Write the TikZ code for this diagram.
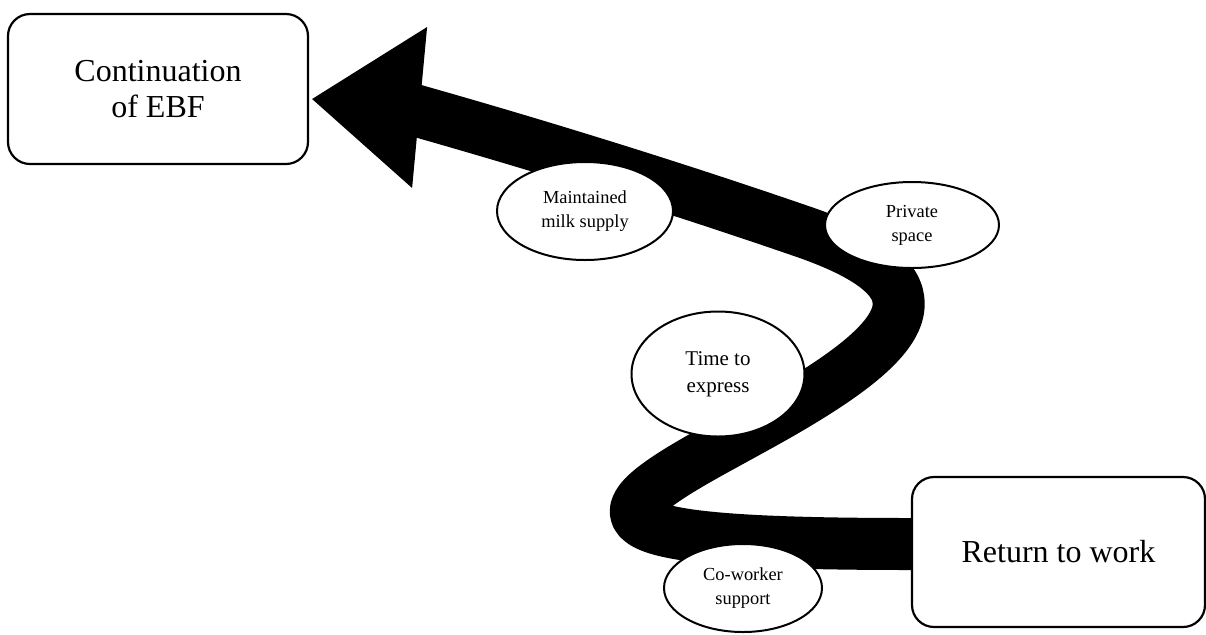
\documentclass[tikz,border=0pt]{standalone}
\usepackage{fontspec}
\setmainfont{Liberation Serif}
\usetikzlibrary{shapes.geometric, calc, backgrounds}

\begin{document}
\begin{tikzpicture}[x=0.5pt, y=-0.5pt,
  stagebox/.style={draw, line width=1.1pt, rounded corners=11pt, fill=white, align=center,
    inner sep=0pt, font=\fontsize{16}{18}\selectfont},
  factor/.style={draw, ellipse, line width=1pt, fill=white, align=center,
    inner sep=0pt, font=\fontsize{9.2}{12}\selectfont},
  pathway/.style={line width=26pt, line join=round}]
  \useasboundingbox (0,0) rectangle (1206,634);

  % Stages
  \node[stagebox, minimum width=150pt, minimum height=75pt] (cont) at (158,89) {Continuation\\of EBF};
  \node[stagebox, minimum width=146.5pt, minimum height=75pt] (ret) at (1058.5,552) {Return to work};

  % Factors along the way
  \node[factor, minimum width=88pt, minimum height=49pt] (milk) at (585,211) {Maintained\\milk supply};
  \node[factor, minimum width=87pt, minimum height=43pt] (space) at (912,225) {Private\\space};
  \node[factor, minimum width=86.5pt, minimum height=62.5pt,
    font=\fontsize{10.5}{13.5}\selectfont] (time) at (718,374) {Time to\\express};
  \node[factor, minimum width=79pt, minimum height=44pt] (cowork) at (743,588) {Co-worker\\support};

  % Pathway, with its head touching the goal
  \coordinate (tip) at ($(cont.east)+(3,10)$);
  \begin{scope}[on background layer]
    \draw[pathway] ($(ret.west)+(0,-8)$) .. controls (580,544) and (590,518) .. (720,447)
      -- (760,425) .. controls (910,342) and (957,286) .. (807,233)
      .. controls (700,196) and (560,151) .. (400,106);
    \fill (tip) -- ++(115,-72) -- ++(-15,161) -- cycle;
  \end{scope}
\end{tikzpicture}
\end{document}
